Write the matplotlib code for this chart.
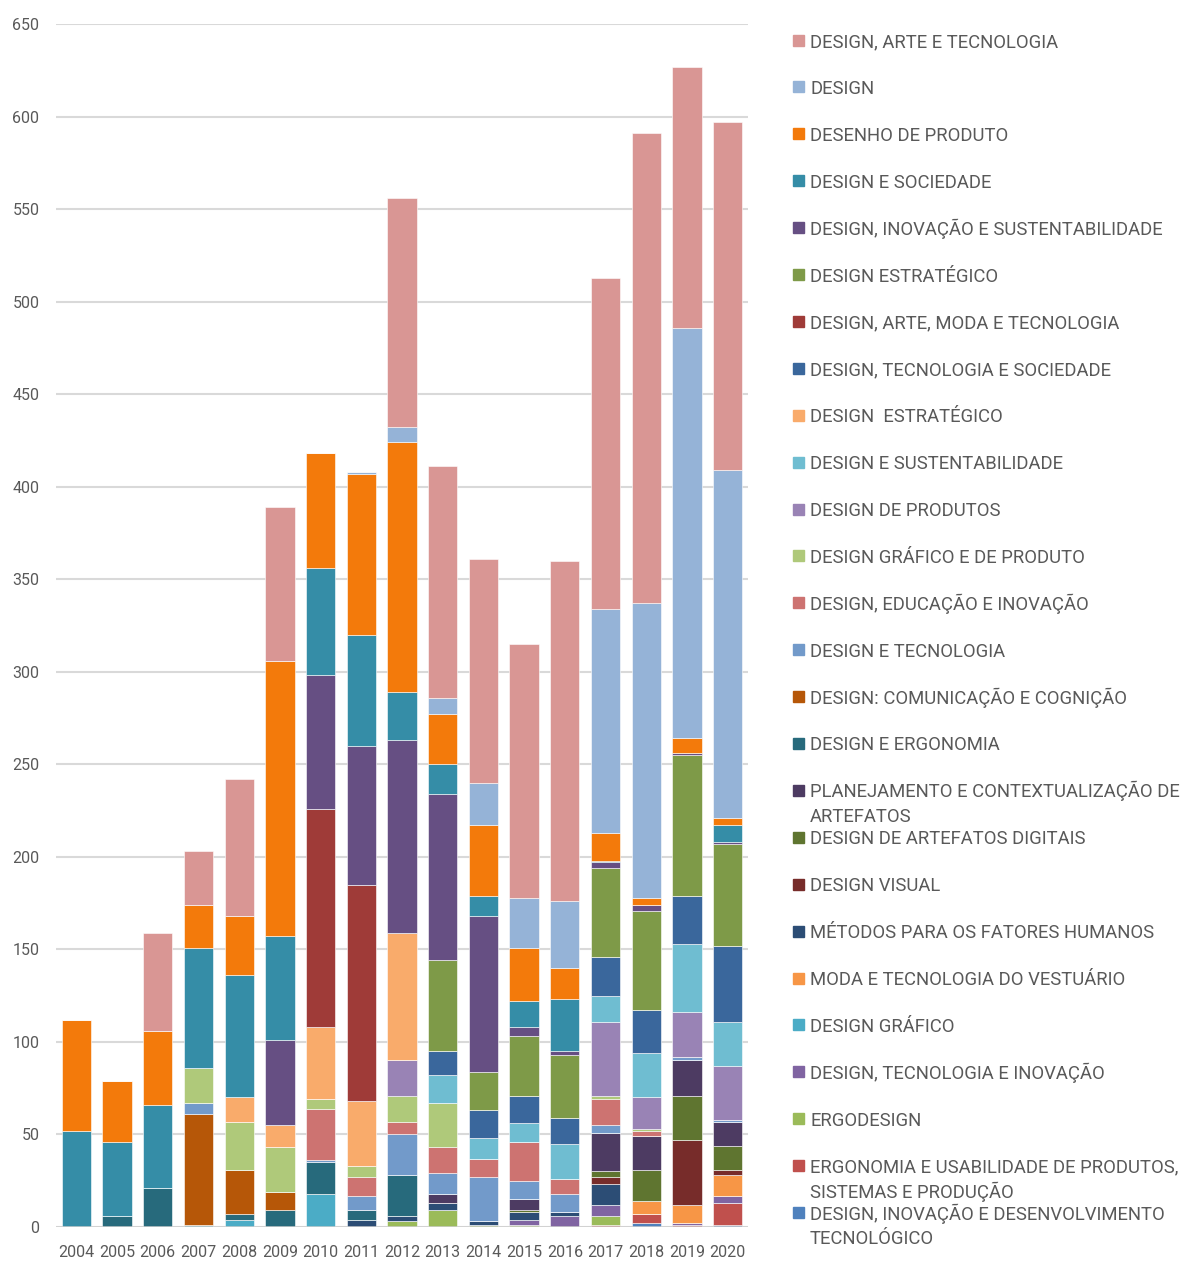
import matplotlib
matplotlib.use('Agg')
import matplotlib.pyplot as plt
import numpy as np

plt.rcParams['font.family'] = ['Roboto', 'DejaVu Sans']

years = [str(y) for y in range(2004, 2021)]

# series from the bottom of the stack to the top
labels = [
    'DESIGN, INOVAÇÃO E DESENVOLVIMENTO\nTECNOLÓGICO',
    'ERGONOMIA E USABILIDADE DE PRODUTOS,\nSISTEMAS E PRODUÇÃO',
    'ERGODESIGN',
    'DESIGN, TECNOLOGIA E INOVAÇÃO',
    'DESIGN GRÁFICO',
    'MODA E TECNOLOGIA DO VESTUÁRIO',
    'MÉTODOS PARA OS FATORES HUMANOS',
    'DESIGN VISUAL',
    'DESIGN DE ARTEFATOS DIGITAIS',
    'PLANEJAMENTO E CONTEXTUALIZAÇÃO DE\nARTEFATOS',
    'DESIGN E ERGONOMIA',
    'DESIGN: COMUNICAÇÃO E COGNIÇÃO',
    'DESIGN E TECNOLOGIA',
    'DESIGN, EDUCAÇÃO E INOVAÇÃO',
    'DESIGN GRÁFICO E DE PRODUTO',
    'DESIGN DE PRODUTOS',
    'DESIGN E SUSTENTABILIDADE',
    'DESIGN  ESTRATÉGICO',
    'DESIGN, TECNOLOGIA E SOCIEDADE',
    'DESIGN, ARTE, MODA E TECNOLOGIA',
    'DESIGN ESTRATÉGICO',
    'DESIGN, INOVAÇÃO E SUSTENTABILIDADE',
    'DESIGN E SOCIEDADE',
    'DESENHO DE PRODUTO',
    'DESIGN',
    'DESIGN, ARTE E TECNOLOGIA',
]

colors = [
    '#4F81BD', '#C0504D', '#9BBB59', '#8064A2', '#4BACC6', '#F79646',
    '#2C4D75', '#772C2A', '#5F7530', '#4D3B62', '#276A7C', '#B65708',
    '#729ACA', '#CD7371', '#AFC97A', '#9983B5', '#6FBDD1', '#F9AB6B',
    '#3A679C', '#9F3B38', '#7E9A48', '#664F83', '#358DA7', '#F37A0B',
    '#95B3D7', '#D99694',
]

#            04   05   06   07   08   09   10   11   12   13   14   15   16   17   18   19   20
inov_desenv = [0,   0,   0,   0,   0,   0,   0,   0,   0,   0,   0,   0,   0,   0,   2,   0,   1]
ergo_usab   = [0,   0,   0,   0,   0,   0,   0,   0,   0,   0,   0,   0,   0,   1,   5,   1,  12]
ergodesign  = [0,   0,   0,   0,   0,   0,   0,   0,   3,   9,   1,   1,   0,   5,   0,   0,   0]
tec_inov    = [0,   0,   0,   0,   0,   0,   0,   0,   0,   0,   0,   3,   6,   6,   0,   1,   4]
grafico     = [0,   0,   0,   1,   4,   0,  18,   0,   0,   0,   0,   0,   0,   0,   0,   0,   0]
moda        = [0,   0,   0,   0,   0,   0,   0,   0,   0,   0,   0,   0,   0,   0,   7,  10,  11]
metodos     = [0,   0,   0,   0,   0,   0,   0,   4,   3,   4,   2,   4,   2,  11,   0,   0,   0]
visual      = [0,   0,   0,   0,   0,   0,   0,   0,   0,   0,   0,   0,   0,   4,   0,  35,   3]
artef_dig   = [0,   0,   0,   0,   0,   0,   0,   0,   0,   0,   0,   1,   0,   3,  17,  24,  13]
planej      = [0,   0,   0,   0,   0,   0,   0,   0,   0,   5,   0,   6,   0,  21,  18,  19,  13]
ergonomia   = [0,   6,  21,   0,   3,   9,  17,   5,  22,   0,   0,   0,   0,   0,   0,   0,   0]
comunic     = [0,   0,   0,  60,  24,  10,   0,   0,   0,   0,   0,   0,   0,   0,   0,   0,   0]
tecnologia  = [0,   0,   0,   6,   0,   0,   1,   8,  22,  11,  24,  10,  10,   4,   0,   2,   1]
educacao    = [0,   0,   0,   0,   0,   0,  28,  10,   7,  14,  10,  21,   8,  14,   3,   0,   0]
graf_prod   = [0,   0,   0,  19,  26,  24,   5,   6,  14,  24,   0,   0,   0,   2,   1,   0,   0]
produtos    = [0,   0,   0,   0,   0,   0,   0,   0,  19,   0,   0,   0,   0,  40,  17,  24,  29]
sustent     = [0,   0,   0,   0,   0,   0,   0,   0,   0,  15,  11,  10,  19,  14,  24,  37,  24]
estrat_b    = [0,   0,   0,   0,  13,  12,  39,  35,  69,   0,   0,   0,   0,   0,   0,   0,   0]
tec_soc     = [0,   0,   0,   0,   0,   0,   0,   0,   0,  13,  15,  15,  14,  21,  23,  26,  41]
arte_moda   = [0,   0,   0,   0,   0,   0, 118, 117,   0,   0,   0,   0,   0,   0,   0,   0,   0]
estrat      = [0,   0,   0,   0,   0,   0,   0,   0,   0,  49,  21,  32,  34,  48,  54,  76,  55]
inov_sust   = [0,   0,   0,   0,   0,  46,  72,  75, 104,  90,  84,   5,   2,   3,   3,   1,   1]
sociedade   = [52, 40,  45,  65,  66,  56,  58,  60,  26,  16,  11,  14,  28,   1,   0,   0,   9]
desenho     = [60, 33,  40,  23,  32, 149,  62,  87, 135,  27,  38,  29,  17,  15,   4,   8,   4]
design      = [0,   0,   0,   0,   0,   0,   0,   1,   8,   9,  23,  27,  36, 121, 159, 222, 188]
arte_tec    = [0,   0,  53,  29,  74,  83,   0,   0, 124, 125, 121, 137, 184, 179, 254, 141, 188]

series = [inov_desenv, ergo_usab, ergodesign, tec_inov, grafico, moda, metodos,
          visual, artef_dig, planej, ergonomia, comunic, tecnologia, educacao,
          graf_prod, produtos, sustent, estrat_b, tec_soc, arte_moda, estrat,
          inov_sust, sociedade, desenho, design, arte_tec]

W, H = 1187, 1261
fig = plt.figure(figsize=(W / 100, H / 100), dpi=100)
ax = fig.add_axes([56 / W, 1 - 1227 / H, 692 / W, (1227 - 24) / H])

x = np.arange(len(years))
bottom = np.zeros(len(years))
for vals, col, lab in zip(series, colors, labels):
    vals = np.array(vals, dtype=float)
    ax.bar(x, vals, 0.72, bottom=bottom, color=col, edgecolor='white',
           linewidth=0.4, label=lab, zorder=3)
    bottom += vals

ax.set_xlim(-0.5, len(years) - 0.5)
ax.set_ylim(0, 650)
ax.set_yticks(np.arange(0, 651, 50))
ax.set_xticks(x)
ax.set_xticklabels(years)
ax.grid(axis='y', color='#D9D9D9', linewidth=1.5, zorder=0)
for s in ax.spines.values():
    s.set_visible(False)
ax.axhline(0, color='#D0D0D0', linewidth=1.8, zorder=4)
ax.tick_params(length=0, labelsize=11.5, labelcolor='#595959')
ax.tick_params(axis='x', pad=13)
ax.tick_params(axis='y', pad=12)

# legend, top entry = top of the stack
pitch = 46.9
for i, (lab, col) in enumerate(zip(labels[::-1], colors[::-1])):
    yc = 40 + i * pitch
    fig.patches.append(plt.Rectangle((793 / W, 1 - (yc + 5.5) / H), 11 / W, 11 / H,
                                     transform=fig.transFigure, color=col))
    for k, line in enumerate(lab.split('\n')):
        fig.text(810 / W, 1 - (yc + 7 + k * 25) / H, line, fontsize=13.3,
                 color='#595959', va='baseline', ha='left')

fig.savefig('out.png', dpi=100, facecolor='white')
